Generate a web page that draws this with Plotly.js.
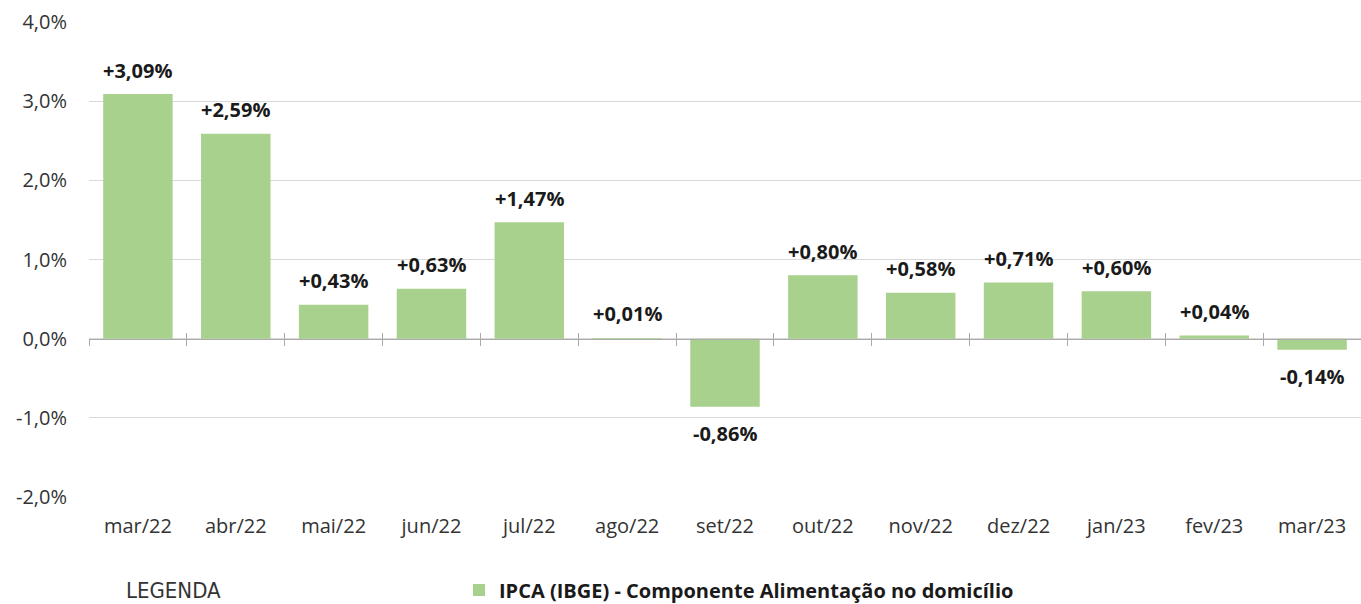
<!DOCTYPE html>
<html>
<head>
<meta charset="utf-8">
<script src="https://cdn.plot.ly/plotly-3.0.1.min.js"></script>
<style>html,body{margin:0;padding:0;background:#fff;overflow:hidden}#chart{width:1361px;height:604px}</style>
</head>
<body>
<div id="chart"></div>
<script>
const categories = ["mar/22","abr/22","mai/22","jun/22","jul/22","ago/22","set/22","out/22","nov/22","dez/22","jan/23","fev/23","mar/23"];
const values = [3.09, 2.59, 0.43, 0.63, 1.47, 0.01, -0.86, 0.80, 0.58, 0.71, 0.60, 0.04, -0.14];
const seriesName = "IPCA (IBGE) - Componente Alimentação no domicílio";
const yTicks = [-2, -1, 0, 1, 2, 3, 4];
const yTickText = ["-2,0%", "-1,0%", "0,0%", "1,0%", "2,0%", "3,0%", "4,0%"];

const FONT = "Open Sans, Noto Sans, sans-serif";
const GREEN = "#a9d18e";

function fmt(v){
  const s = Math.abs(v).toFixed(2).replace('.', ',');
  return (v >= 0 ? '+' : '-') + s + '%';
}

const traces = [
  {type:'bar', x:categories, y:values, name:seriesName, marker:{color:GREEN}, hoverinfo:'skip', showlegend:true},
  {type:'bar', x:categories, y:categories.map(()=>null), xaxis:'x2', showlegend:false, hoverinfo:'skip'},
  {type:'bar', x:categories, y:categories.map(()=>null), xaxis:'x3', showlegend:false, hoverinfo:'skip'}
];

const annotations = categories.map((c,i)=>({
  x:c, y:values[i], xref:'x', yref:'y', text:fmt(values[i]), showarrow:false,
  yshift: values[i] >= 0 ? 24 : -27, yanchor:'middle',
  font:{family:FONT, size:20, color:'#1a1a1a', weight:700}
}));
annotations.push({
  xref:'paper', yref:'paper', x:(124-89)/1272, y:-(590-497)/475, xanchor:'left', yanchor:'middle',
  text:'LEGENDA', showarrow:false,
  font:{family:'Liberation Sans Narrow, DejaVu Sans Condensed, sans-serif', size:22, color:'#333'}
});

const common = {type:'category', showgrid:false, zeroline:false, fixedrange:true};

const layout = {
  width:1361, height:604,
  margin:{l:89, r:0, t:22, b:107, autoexpand:false},
  paper_bgcolor:'#fff', plot_bgcolor:'#fff',
  separators:', ',
  bargap:0.29,
  showlegend:true,
  legend:{orientation:'h', x:(459-89)/1272, y:-(590-497)/475, xanchor:'left', yanchor:'middle',
    font:{family:FONT, size:20, color:'#1a1a1a', weight:700}, itemwidth:30, bgcolor:'rgba(0,0,0,0)'},
  xaxis:Object.assign({}, common, {
    showline:false, ticks:'outside', ticklen:11, tickcolor:'rgba(0,0,0,0)',
    tickfont:{family:FONT, size:20, color:'#333'}
  }),
  xaxis2:Object.assign({}, common, {
    overlaying:'x', matches:'x', anchor:'free', position:1/3, showline:true, linecolor:'#aaaaaa', linewidth:1.5,
    ticks:'outside', tickson:'boundaries', ticklen:6, tickcolor:'#aaaaaa', showticklabels:false
  }),
  xaxis3:Object.assign({}, common, {
    overlaying:'x', matches:'x', anchor:'free', position:1/3, showline:false,
    ticks:'inside', tickson:'boundaries', ticklen:6, tickcolor:'#aaaaaa', showticklabels:false
  }),
  yaxis:{
    range:[-2,4], tickvals:yTicks, ticktext:yTickText,
    showgrid:true, gridcolor:'#d9d9d9', gridwidth:1, zeroline:false, showline:false,
    ticks:'outside', ticklen:17, tickcolor:'rgba(0,0,0,0)',
    tickfont:{family:FONT, size:20, color:'#333'}, fixedrange:true
  },
  annotations:annotations
};

Plotly.newPlot('chart', traces, layout, {displayModeBar:false, staticPlot:true});
</script>
</body>
</html>
